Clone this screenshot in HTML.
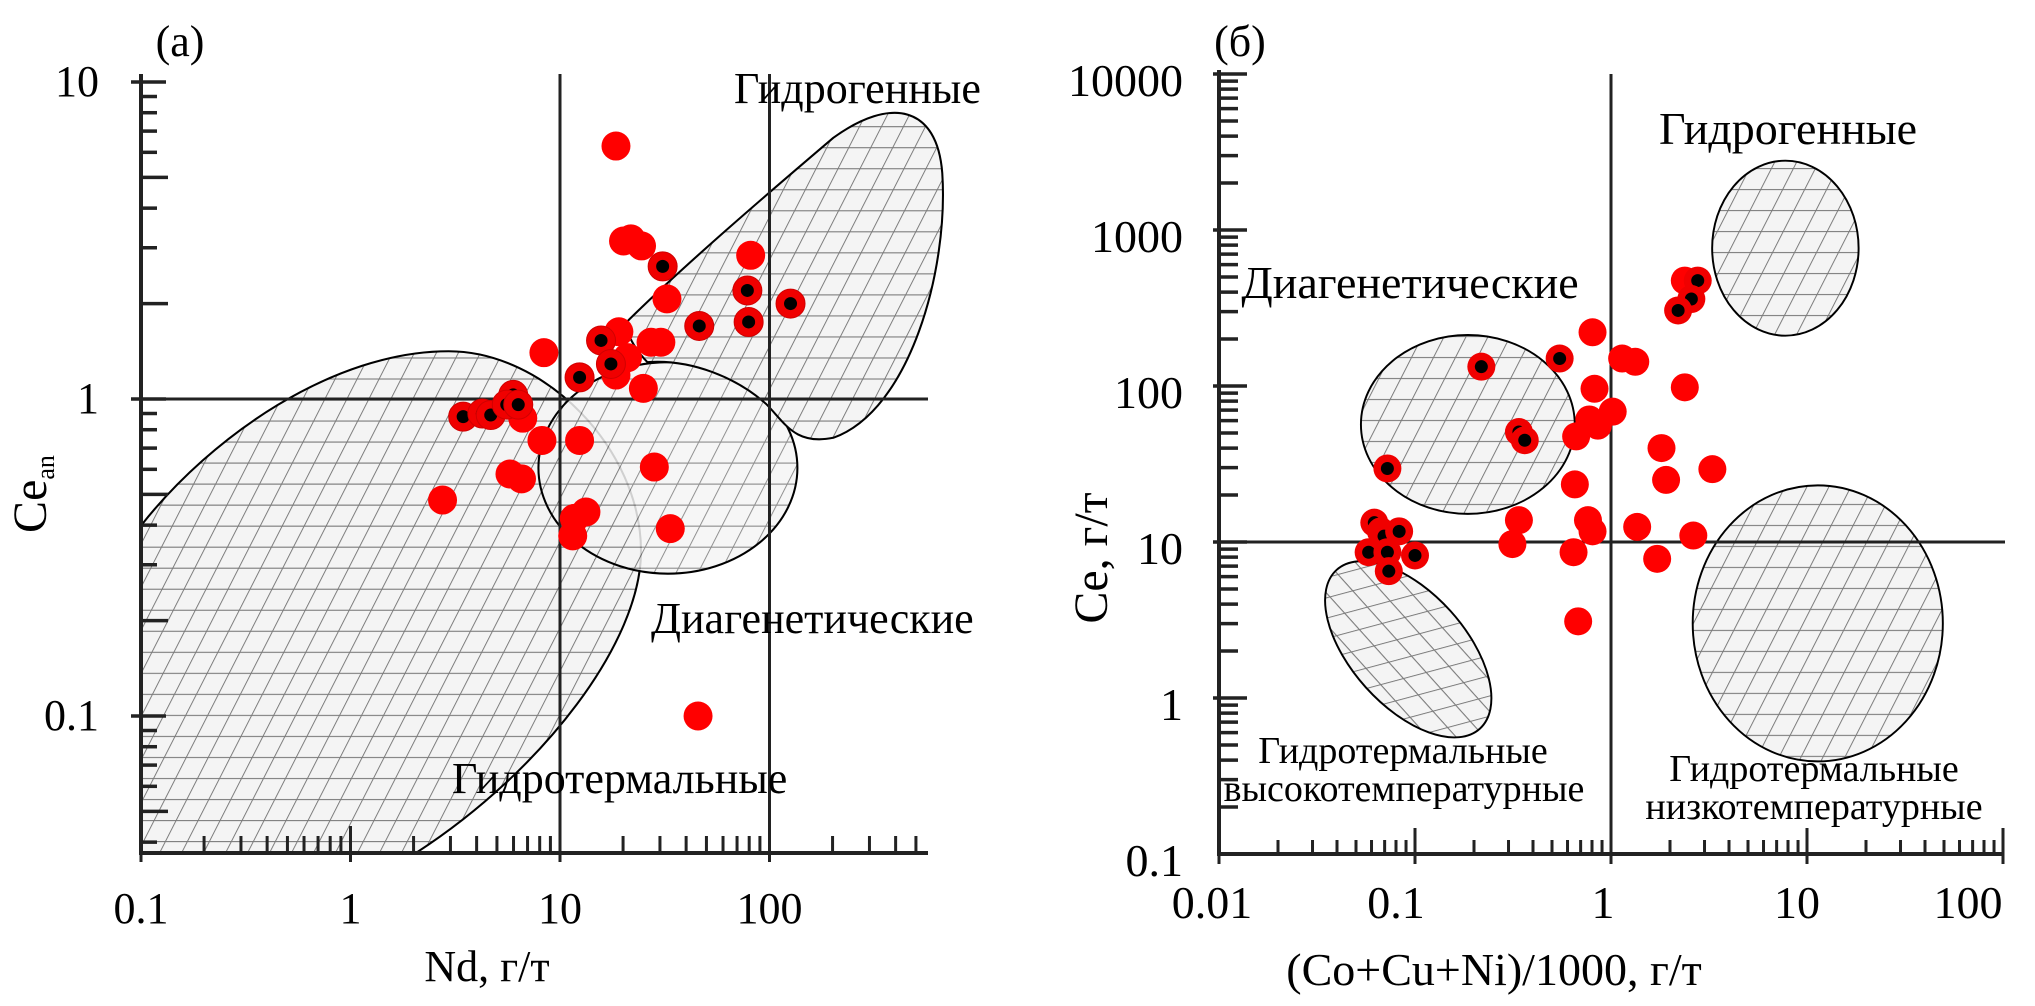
<!DOCTYPE html>
<html><head><meta charset="utf-8">
<style>
html,body{margin:0;padding:0;background:#fff;}
svg{display:block;font-family:"Liberation Serif",serif;}
</style></head>
<body>
<svg id="chart" width="2035" height="1006" viewBox="0 0 2035 1006" xmlns="http://www.w3.org/2000/svg" font-family="Liberation Serif, serif">
<defs>
<pattern id="hatchA" patternUnits="userSpaceOnUse" width="34.3" height="32.8" patternTransform="skewX(-27)">
<rect width="34.3" height="32.8" fill="#f4f4f4"/>
<line x1="0" y1="0" x2="34.3" y2="0" stroke="#7a7a7a" stroke-width="3.4"/>
<line x1="0" y1="0" x2="0" y2="32.8" stroke="#7a7a7a" stroke-width="3.4"/>
</pattern>
<pattern id="hatchB" patternUnits="userSpaceOnUse" width="33.9" height="32.4" patternTransform="skewX(-27)">
<rect width="33.9" height="32.4" fill="#f4f4f4"/>
<line x1="0" y1="0" x2="33.9" y2="0" stroke="#7a7a7a" stroke-width="3.4"/>
<line x1="0" y1="0" x2="0" y2="32.4" stroke="#7a7a7a" stroke-width="3.4"/>
</pattern>
</defs>
<g id="left"></g>
<g id="right"></g>
</svg>
<script>
// ---- Panel (a) data: Nd (g/t) vs Ce_an ----
const aRedNd = [18.5,20.1,21.8,24.5,32.4,81.3,8.38,19.1,27.2,30.3,21,18.5,25,6.64,8.2,12.4,5.77,6.55,28.2,2.75,11.7,13.3,11.5,33.6,45.6];
const aRedCe = [6.28,3.15,3.2,3.04,2.07,2.84,1.40,1.63,1.51,1.51,1.35,1.19,1.08,0.87,0.74,0.74,0.58,0.56,0.61,0.48,0.42,0.44,0.37,0.39,0.10];
const aBlkNd = [30.9,78.4,79.5,126,46.2,15.7,17.5,12.4,3.45,4.26,4.67,5.98,5.57,6.32];
const aBlkCe = [2.62,2.2,1.75,2.0,1.70,1.53,1.29,1.17,0.88,0.90,0.89,1.03,0.96,0.96];
const aXTicks = ["0.1","1","10","100"];
const aYTicks = ["0.1","1","10"];
// ---- Panel (b) data: (Co+Cu+Ni)/1000 vs Ce ----
const bRedX = [0.805,1.14,1.33,2.38,0.824,1.02,0.775,0.857,0.664,1.81,3.29,0.654,1.91,0.339,0.763,0.805,1.36,2.63,0.314,0.644,1.72,0.68,2.38];
const bRedY = [221,150,143,98,96,68.5,61,55.7,47.5,40,29.3,23.4,25,13.8,13.8,11.7,12.5,11,9.7,8.6,7.8,3.1,474];
const bBlkX = [2.77,2.57,2.2,0.547,0.218,0.339,0.363,0.0723,0.062,0.067,0.0695,0.083,0.058,0.0723,0.1,0.0735];
const bBlkY = [474,361,305,150,133,50.7,44.9,29.6,13.3,11.7,10.9,11.7,8.6,8.6,8.2,6.5];
const bXTicks = ["0.01","0.1","1","10","100"];
const bYTicks = ["0.1","1","10","100","1000","10000"];

const NS="http://www.w3.org/2000/svg";
const L=Math.log10;
function mk(parent,tag,attrs,text){const e=document.createElementNS(NS,tag);for(const k in attrs)e.setAttribute(k,attrs[k]);if(text!==undefined)e.textContent=text;parent.appendChild(e);return e;}

const xA=v=>141+209.5*(L(v)+1);
const yA=v=>399-317*L(v);
const xB=v=>1219+196*(L(v)+2);
const yB=v=>542-156*(L(v)-1);

const gl=document.getElementById('left');
const gr=document.getElementById('right');

let r;
r=mk(gl,'path',{d:"M220,820 C330,680 520,548 700,548 C850,548 1000,700 1000,860 C1000,1000 850,1200 650,1330 L220,1330 Z",transform:"scale(0.641)",fill:"url(#hatchA)",stroke:"#000","stroke-width":"3.2"});


r=mk(gl,'ellipse',{cx:1042,cy:730,rx:202,ry:165,transform:"scale(0.641)",fill:"url(#hatchA)",stroke:"#000","stroke-width":"3.2","fill-opacity":"0.85"});


r=mk(gl,'path',{d:"M975,505 C1060,420 1200,300 1300,215 C1390,150 1462,165 1470,270 C1480,420 1420,640 1300,683 C1240,695 1225,660 1195,630 C1150,590 1080,560 1010,565 C990,545 978,520 975,505 Z",transform:"scale(0.641)",fill:"url(#hatchA)",stroke:"#000","stroke-width":"3.2"});



function line(p,x1,y1,x2,y2,w,name){const e=mk(p,'line',{x1,y1,x2,y2,stroke:"#222","stroke-width":w});return e;}
line(gl,141,74,141,855,4,'y-axis-a');
line(gl,139,853,928,853,4,'x-axis-a');
line(gl,xA(10),74,xA(10),853,3,'divider-vertical-10-a');
line(gl,xA(100),74,xA(100),853,3,'divider-vertical-100-a');
line(gl,141,yA(1),928,yA(1),3,'divider-horizontal-1-a');
for(let d=-1;d<=2;d++){for(let m=1;m<=9;m++){const v=m*Math.pow(10,d);const x=xA(v);if(x>922)continue;
 line(gl,x,m===1?862:853,x,m===1?826:836,3,'x-tick-a');}}
for(let d=-2;d<=0;d++){for(let m=1;m<=9;m++){const v=m*Math.pow(10,d);const y=yA(v);if(y>850||y<70)continue;
 line(gl,m===1?131:141,y,m===1?166:(m===5||m===2?168:157),y,3.5,'y-tick-a');}}
line(gl,131,yA(10),166,yA(10),3.5,'y-tick-a');
aXTicks.forEach(s=>{const t=mk(gl,'text',{x:xA(parseFloat(s)),y:923,"font-size":44,"text-anchor":"middle","font-family":"Liberation Serif, serif"},s);});
aYTicks.forEach(s=>{const t=mk(gl,'text',{x:99,y:yA(parseFloat(s))+14,"font-size":44,"text-anchor":"end","font-family":"Liberation Serif, serif"},s);});
let t;
t=mk(gl,'text',{x:487,y:981,"font-size":44,"text-anchor":"middle"},"Nd, г/т");
t=mk(gl,'text',{x:0,y:0,"font-size":48,"text-anchor":"middle",transform:"translate(46,494) rotate(-90)"});
t.innerHTML='Ce<tspan font-size="26" dy="8">an</tspan>';
t=mk(gl,'text',{x:180,y:56,"font-size":44,"text-anchor":"middle"},"(a)");
t=mk(gl,'text',{x:734,y:103,"font-size":44},"Гидрогенные");
t=mk(gl,'text',{x:651,y:633,"font-size":44},"Диагенетические");
t=mk(gl,'text',{x:452,y:793,"font-size":44},"Гидротермальные");

aRedNd.forEach((v,i)=>{const c=mk(gl,'circle',{cx:xA(v),cy:yA(aRedCe[i]),r:14.5,fill:"#ff0000"});

});
aBlkNd.forEach((v,i)=>{const c=mk(gl,'circle',{cx:xA(v),cy:yA(aBlkCe[i]),r:14.5,fill:"#f00000",stroke:"#d00000","stroke-width":1});


const d=mk(gl,'circle',{cx:xA(v),cy:yA(aBlkCe[i]),r:6.5,fill:"#000"});

});

const rb=mk(gr,'g',{transform:"translate(1000,0) scale(0.648)"});


r=mk(rb,'ellipse',{cx:722,cy:655,rx:165,ry:138,fill:"url(#hatchB)",stroke:"#000","stroke-width":"3"});

r=mk(rb,'ellipse',{cx:630,cy:1002,rx:165,ry:88,transform:"rotate(48 630 1002)",fill:"url(#hatchB)",stroke:"#000","stroke-width":"3"});

r=mk(rb,'ellipse',{cx:1212,cy:383,rx:113,ry:135,fill:"url(#hatchB)",stroke:"#000","stroke-width":"3"});

r=mk(rb,'ellipse',{cx:1262,cy:962,rx:193,ry:213,fill:"url(#hatchB)",stroke:"#000","stroke-width":"3"});


line(gr,1219,70,1219,856,4,'y-axis-b');
line(gr,1217,854,2002,854,4,'x-axis-b');
line(gr,xB(1),74,xB(1),854,3,'divider-vertical-1-b');
line(gr,1219,yB(10),2005,yB(10),3,'divider-horizontal-10-b');
for(let d=-2;d<=2;d++){for(let m=1;m<=9;m++){const v=m*Math.pow(10,d);const x=xB(v);if(x>2004)continue;
 line(gr,x,m===1?864:854,x,m===1?828:840,3,'x-tick-b');}}
for(let d=-1;d<=4;d++){for(let m=1;m<=9;m++){const v=m*Math.pow(10,d);const y=yB(v);if(y<66||y>852)continue;
 line(gr,m===1?1213:1219,y,m===1?1247:1238,y,3.5,'y-tick-b');}}
bXTicks.forEach((s,i)=>{const x=[1212,1396,1603,1797,1968][i];const tt=mk(gr,'text',{x:x,y:918,"font-size":46,"text-anchor":"middle"},s);});
bYTicks.forEach(s=>{const tt=mk(gr,'text',{x:1183,y:yB(parseFloat(s))+22,"font-size":46,"text-anchor":"end"},s);});
t=mk(gr,'text',{x:1494,y:985,"font-size":46,"text-anchor":"middle"},"(Co+Cu+Ni)/1000, г/т");
t=mk(gr,'text',{x:0,y:0,"font-size":48,"text-anchor":"middle",transform:"translate(1107,558) rotate(-90)"},"Ce, г/т");
t=mk(gr,'text',{x:1240,y:56,"font-size":44,"text-anchor":"middle"},"(б)");
t=mk(gr,'text',{x:1788,y:144,"font-size":46,"text-anchor":"middle"},"Гидрогенные");
t=mk(gr,'text',{x:1410,y:298,"font-size":46,"text-anchor":"middle"},"Диагенетические");
t=mk(gr,'text',{x:1403,y:763,"font-size":38,"text-anchor":"middle"},"Гидротермальные");
t=mk(gr,'text',{x:1404,y:801,"font-size":38,"text-anchor":"middle"},"высокотемпературные");
t=mk(gr,'text',{x:1814,y:781,"font-size":38,"text-anchor":"middle"},"Гидротермальные");
t=mk(gr,'text',{x:1814,y:819,"font-size":38,"text-anchor":"middle"},"низкотемпературные");

bRedX.forEach((v,i)=>{const c=mk(gr,'circle',{cx:xB(v),cy:yB(bRedY[i]),r:14,fill:"#ff0000"});

});
bBlkX.forEach((v,i)=>{const c=mk(gr,'circle',{cx:xB(v),cy:yB(bBlkY[i]),r:14,fill:"#f00000"});


const d=mk(gr,'circle',{cx:xB(v),cy:yB(bBlkY[i]),r:6.5,fill:"#000"});

});
</script>
</body></html>
